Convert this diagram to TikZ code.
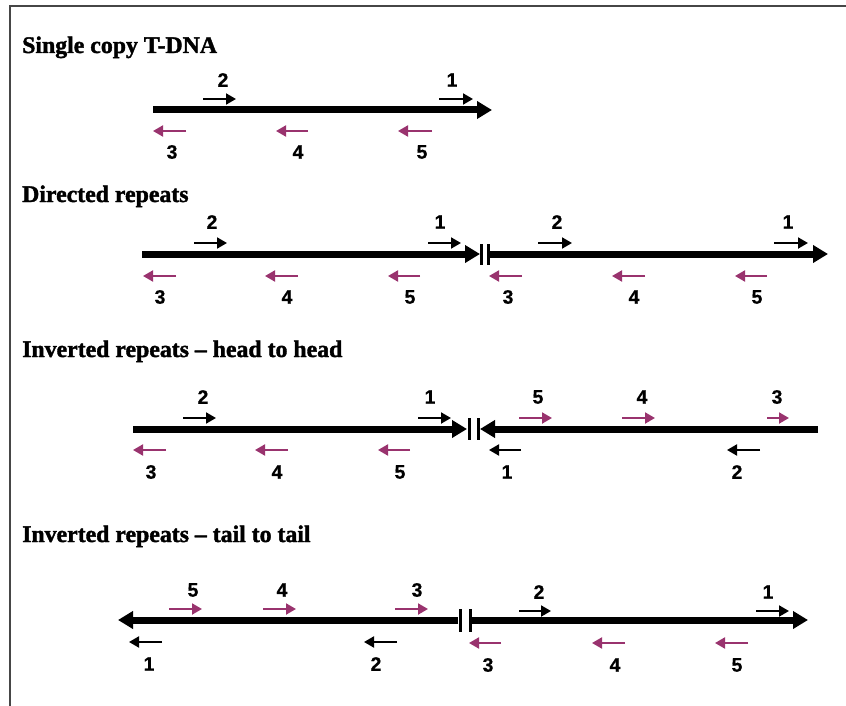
\documentclass[tikz,border=0pt]{standalone}
\usepackage{fontspec}
\setmainfont{Liberation Serif}
\newfontfamily\titlefont[Ligatures=TeX, BoldFont={Liberation Serif Bold}, BoldFeatures={FakeBold=1.6}]{Liberation Serif}
\newfontfamily\lblfont[BoldFont={Liberation Sans Bold}, BoldFeatures={FakeBold=0.6}]{Liberation Sans}
\usetikzlibrary{arrows.meta}
\definecolor{plum}{RGB}{153,51,110}
\definecolor{framegray}{RGB}{70,70,70}
\tikzset{
  mainline/.style={line width=7pt, black},
  mainhead/.style={-{Triangle[length=15pt,width=17pt]}},
  blk/.style={line width=2pt, black, -{Triangle[length=10pt,width=11pt]}},
  mag/.style={line width=2pt, plum, -{Triangle[length=10pt,width=11pt]}},
  lbl/.style={font=\lblfont\bfseries\fontsize{19.5}{20}\selectfont, inner sep=0pt},
  title/.style={font=\titlefont\bfseries\fontsize{23.8}{24}\selectfont, inner sep=0pt, anchor=base west},
  barline/.style={line width=3pt, black},
}
% name, style, x1, x2, y, label, lx, ly
\newcommand\smallarr[8]{%
  \coordinate (#1a) at (#3,#5);
  \coordinate (#1b) at (#4,#5);
  \draw[#2] (#1a) -- (#1b);
  \node[lbl] (#1l) at (#7,#8) {#6};
}
\begin{document}
\begin{tikzpicture}[x=1pt,y=-1pt]
\useasboundingbox (0,0) rectangle (846,706);
% frame
\draw[line width=2pt, framegray] (846,6) -- (10,6) -- (10,706);

% titles
\node[title] (t1) at (22,53) {Single copy T-DNA};
\node[title] (t2) at (22,202) {Directed repeats};
\node[title] (t3) at (22,357) {Inverted repeats – head to head};
\node[title] (t4) at (22,542) {Inverted repeats – tail to tail};

% ---------- Row 1
\coordinate (r1s) at (153,110);
\coordinate (r1e) at (492,110);
\draw[mainline, mainhead] (r1s) -- (r1e);
\smallarr{ra2}{blk}{203}{236}{99}{2}{223}{80}
\smallarr{ra1}{blk}{439}{473}{99}{1}{452}{80}
\smallarr{ra3}{mag}{186}{153}{131}{3}{172}{152}
\smallarr{ra4}{mag}{308}{276}{131}{4}{298}{152}
\smallarr{ra5}{mag}{432}{398}{131}{5}{422}{152}

% ---------- Row 2
\coordinate (r2ls) at (142,254);
\coordinate (r2le) at (480,254);
\coordinate (r2rs) at (489,254);
\coordinate (r2re) at (828,254);
\draw[mainline, mainhead] (r2ls) -- (r2le);
\draw[mainline, mainhead] (r2rs) -- (r2re);
\draw[barline] (481,244) -- (481,265);
\draw[barline] (488.5,244) -- (488.5,265);
\smallarr{rb2}{blk}{194}{227}{243}{2}{212}{222}
\smallarr{rb1}{blk}{428}{461}{243}{1}{440}{222}
\smallarr{rb3}{mag}{176}{143}{276}{3}{160}{297}
\smallarr{rb4}{mag}{298}{265}{276}{4}{287}{297}
\smallarr{rb5}{mag}{420}{388}{276}{5}{410}{297}
\smallarr{rc2}{blk}{538}{572}{243}{2}{557}{222}
\smallarr{rc1}{blk}{774}{808}{243}{1}{788}{222}
\smallarr{rc3}{mag}{522}{489}{276}{3}{508}{297}
\smallarr{rc4}{mag}{645}{612}{276}{4}{634}{297}
\smallarr{rc5}{mag}{767}{735}{276}{5}{757}{297}

% ---------- Row 3
\coordinate (r3ls) at (133,429);
\coordinate (r3le) at (467,429);
\coordinate (r3rs) at (818,429);
\coordinate (r3re) at (480,429);
\draw[mainline, mainhead] (r3ls) -- (r3le);
\draw[mainline, mainhead] (r3rs) -- (r3re);
\draw[barline] (469.5,418) -- (469.5,440);
\draw[barline] (478,418) -- (478,440);
\smallarr{rd2}{blk}{183}{216}{418}{2}{203}{397}
\smallarr{rd1}{blk}{418}{451}{418}{1}{430}{397}
\smallarr{rd3}{mag}{166}{133}{450}{3}{151}{472}
\smallarr{rd4}{mag}{288}{255}{450}{4}{277}{472}
\smallarr{rd5}{mag}{410}{378}{450}{5}{400}{472}
\smallarr{re1}{blk}{521}{489}{450}{1}{507}{472}
\smallarr{re5}{mag}{519}{552}{418}{5}{538}{397}
\smallarr{re4}{mag}{622}{655}{418}{4}{642}{397}
\smallarr{re3}{mag}{767}{789}{418}{3}{777}{397}
\smallarr{re2}{blk}{760}{727}{450}{2}{737}{472}

% ---------- Row 4
\coordinate (r4ls) at (458,620);
\coordinate (r4le) at (118,620);
\coordinate (r4rs) at (472,620);
\coordinate (r4re) at (808,620);
\draw[mainline, mainhead] (r4ls) -- (r4le);
\draw[mainline, mainhead] (r4rs) -- (r4re);
\draw[barline] (460.5,609) -- (460.5,632);
\draw[barline] (470,609) -- (470,632);
\smallarr{rf5}{mag}{169}{202}{609}{5}{193}{590}
\smallarr{rf4}{mag}{263}{296}{609}{4}{282}{590}
\smallarr{rf3}{mag}{395}{428}{609}{3}{417}{590}
\smallarr{rf1}{blk}{162}{129}{642}{1}{149}{664}
\smallarr{rf2}{blk}{397}{364}{642}{2}{376}{664}
\smallarr{rg2}{blk}{519}{551}{611}{2}{539}{592}
\smallarr{rg1}{blk}{756}{789}{611}{1}{768}{592}
\smallarr{rg3}{mag}{501}{469}{643}{3}{488}{665}
\smallarr{rg4}{mag}{625}{592}{643}{4}{615}{665}
\smallarr{rg5}{mag}{748}{715}{643}{5}{737}{665}
\end{tikzpicture}
\end{document}
